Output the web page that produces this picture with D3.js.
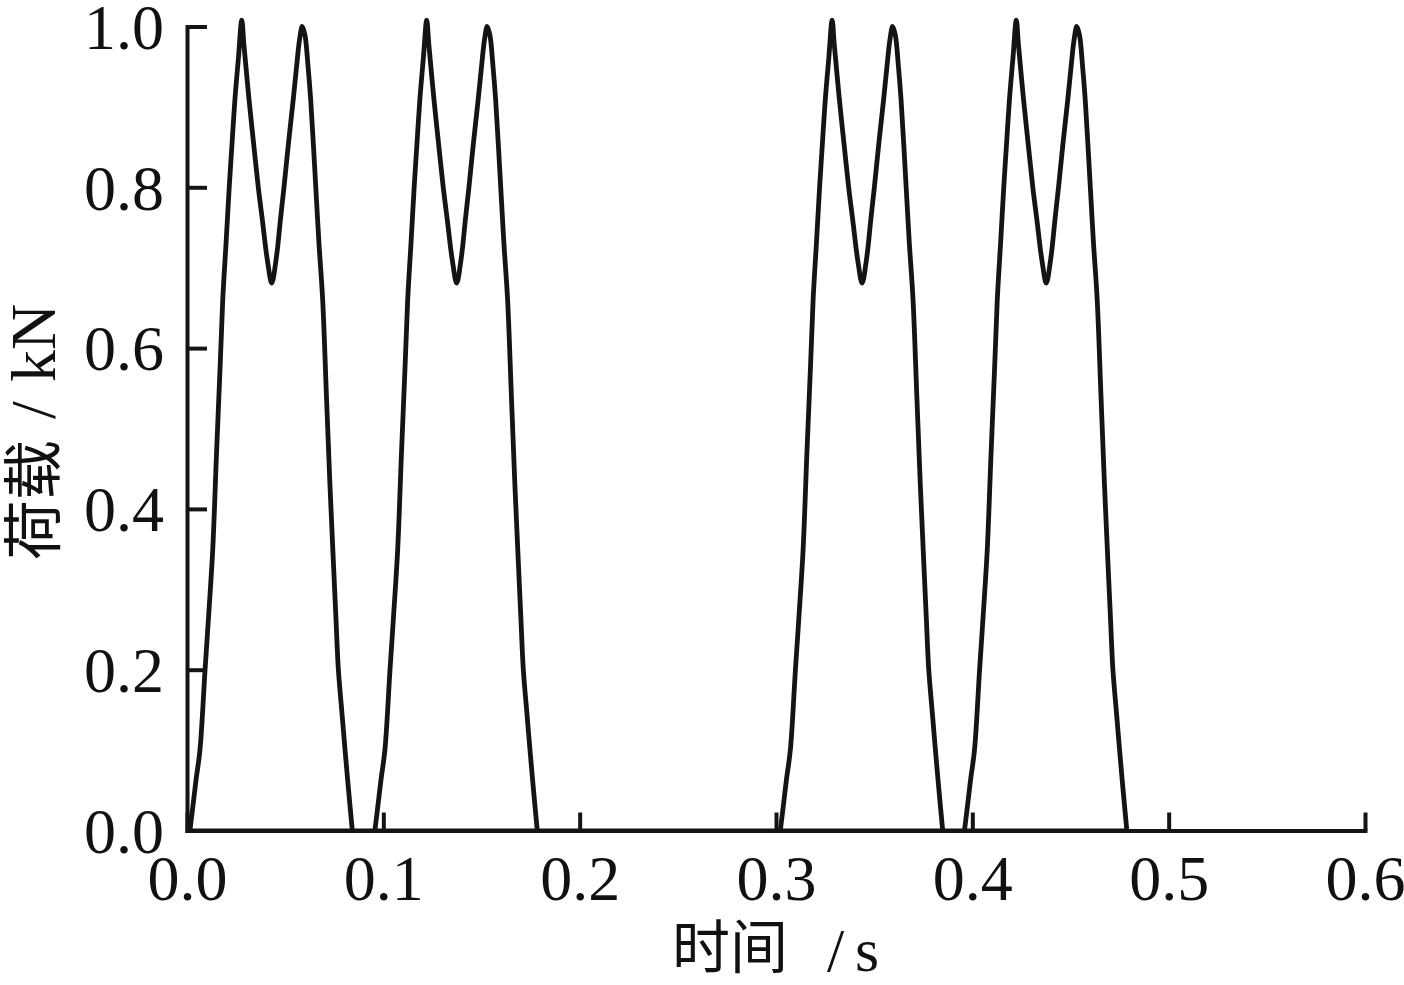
<!DOCTYPE html>
<html>
<head>
<meta charset="utf-8">
<script src="https://cdn.jsdelivr.net/npm/d3@7/dist/d3.min.js"></script>
<style>
  html, body { margin: 0; padding: 0; background: #fff; }
  svg { display: block; }
  text { fill: #111; }
  .latin { font-family: "Liberation Serif", "Times New Roman", serif; }
  .cjk { font-family: "Noto Sans CJK SC", "Noto Sans CJK JP", sans-serif; }
</style>
</head>
<body>
<svg id="chart" width="1404" height="985"></svg>
<script>
// ---- data ----
// time since onset of one double-hump load pulse (s) and its load (kN); all four pulses look identical
const pulseShapeTime = [0, 0.0016, 0.0031, 0.0051, 0.0077, 0.0097, 0.0116, 0.0135, 0.0153, 0.0167,
  0.0184, 0.0200, 0.0214, 0.0229, 0.0247, 0.0264, 0.0275, 0.0301, 0.0324, 0.0348,
  0.0370, 0.0387, 0.0400, 0.0410, 0.0416, 0.0423, 0.0433, 0.0445, 0.0461, 0.0479,
  0.0502, 0.0526, 0.0543, 0.0558, 0.0572, 0.0586, 0.0601, 0.0615, 0.0641, 0.0657,
  0.0676, 0.0695, 0.0713, 0.0730, 0.0744, 0.0756, 0.0775, 0.0790, 0.0808, 0.0827];
const pulseShapeLoad = [0, 0.032, 0.063, 0.10, 0.20, 0.274, 0.349, 0.467, 0.573, 0.66,
  0.731, 0.80, 0.853, 0.909, 0.961, 1.008, 0.977, 0.909, 0.855, 0.80,
  0.757, 0.722, 0.700, 0.685, 0.681, 0.685, 0.700, 0.722, 0.760, 0.80,
  0.855, 0.909, 0.950, 0.983, 1.0, 0.989, 0.952, 0.909, 0.80, 0.731,
  0.66, 0.542, 0.43, 0.337, 0.262, 0.20, 0.144, 0.10, 0.05, 0];
// onset times of the four pulses (s)
const pulseOnsets = [0.0015, 0.0957, 0.3022, 0.3960];

const xTicks = [0.0, 0.1, 0.2, 0.3, 0.4, 0.5, 0.6];
const yTicks = [0.0, 0.2, 0.4, 0.6, 0.8, 1.0];

// ---- build series ----
const pulses = pulseOnsets.map(t0 => pulseShapeTime.map((dt, i) => ({ t: t0 + dt, v: pulseShapeLoad[i] })));
const baseline = [];
baseline.push({ t: 0, v: 0 });
pulses.forEach(p => { baseline.push(p[0]); baseline.push(p[p.length - 1]); });

// ---- layout ----
const svg = d3.select("#chart");
const x = d3.scaleLinear().domain([0, 0.6]).range([187, 1365]);
const y = d3.scaleLinear().domain([0, 1.0]).range([830.5, 26.5]);

const ink = "#141414";
const lineW = 4.8;
const axisW = 4;

// zero-load stretches between pulses (lie on the axis)
const flat = d3.line().x(d => x(d.t)).y(d => y(d.v));
svg.append("path").datum(baseline).attr("d", flat)
  .attr("fill", "none").attr("stroke", ink).attr("stroke-width", axisW);

// pulses
const line = d3.line().x(d => x(d.t)).y(d => y(d.v)).curve(d3.curveCatmullRom.alpha(0.5));
svg.selectAll("path.pulse").data(pulses).enter().append("path")
  .attr("class", "pulse")
  .attr("d", line)
  .attr("fill", "none")
  .attr("stroke", ink)
  .attr("stroke-width", lineW)
  .attr("stroke-linejoin", "round");

// x axis
const gx = svg.append("g").attr("transform", `translate(0,${y(0)})`)
  .call(d3.axisBottom(x).tickValues(xTicks).tickFormat(d3.format(".1f"))
        .tickSizeInner(-18).tickSizeOuter(0));
gx.attr("font-family", null).attr("font-size", null);
gx.select(".domain").attr("stroke", ink).attr("stroke-width", axisW).attr("stroke-linecap", "square");
gx.selectAll(".tick line").attr("stroke", ink).attr("stroke-width", axisW);
gx.selectAll(".tick text").attr("class", "latin").attr("y", 69).attr("dy", 0)
  .style("font-size", "64px").attr("fill", "#111");

// y axis
const gy = svg.append("g").attr("transform", `translate(${x(0)},0)`)
  .call(d3.axisLeft(y).tickValues(yTicks).tickFormat(d3.format(".1f"))
        .tickSizeInner(-20).tickSizeOuter(0));
gy.attr("font-family", null).attr("font-size", null);
gy.select(".domain").attr("stroke", ink).attr("stroke-width", axisW).attr("stroke-linecap", "square");
gy.selectAll(".tick line").attr("stroke", ink).attr("stroke-width", axisW);
gy.selectAll(".tick text").attr("class", "latin").attr("x", -23).attr("dy", "0.34em")
  .style("font-size", "64px").attr("fill", "#111");

// x title: 时间 / s
const xt = svg.append("g");
xt.append("text").attr("class", "cjk").attr("x", 672).attr("y", 968)
  .style("font-size", "58px").text("时间");
xt.append("text").attr("class", "latin").attr("x", 827).attr("y", 971)
  .style("font-size", "62px").text("/");
xt.append("text").attr("class", "latin").attr("x", 855).attr("y", 971)
  .style("font-size", "62px").text("s");

// y title: 荷载 / kN (rotated)
const yt = svg.append("g").attr("transform", "translate(55,560) rotate(-90)");
yt.append("text").attr("class", "cjk").attr("x", 0).attr("y", 0)
  .style("font-size", "60px").text("荷载");
yt.append("text").attr("class", "latin").attr("x", 141).attr("y", 0)
  .style("font-size", "64px").text("/");
yt.append("text").attr("class", "latin").attr("x", 178).attr("y", 0)
  .style("font-size", "64px").text("kN");
</script>
</body>
</html>
